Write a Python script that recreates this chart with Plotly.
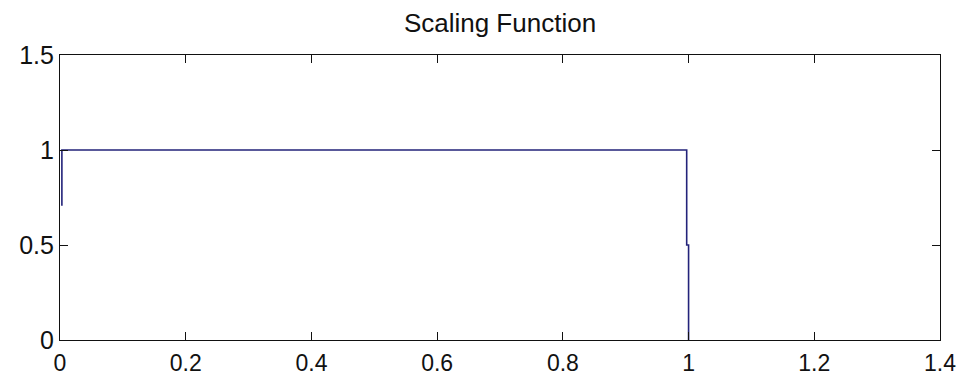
import plotly.graph_objects as go

# Haar scaling function (cascade approximation)
x_vals = [0.003, 0.003, 0.997, 0.997, 1.0, 1.0]
y_vals = [0.707, 1.0, 1.0, 0.5, 0.5, 0.0]

x_ticks = [0, 0.2, 0.4, 0.6, 0.8, 1, 1.2, 1.4]
x_tick_text = ["0", "0.2", "0.4", "0.6", "0.8", "1", "1.2", "1.4"]
y_ticks = [0, 0.5, 1, 1.5]
y_tick_text = ["0", "0.5", "1", "1.5"]

title_text = "Scaling Function"

font_family = "Liberation Sans, Arial, sans-serif"

fig = go.Figure()
fig.add_trace(go.Scatter(
    x=x_vals, y=y_vals, mode="lines",
    line=dict(color="#23237a", width=1.6),
    showlegend=False, hoverinfo="skip",
))

axis_common = dict(
    showline=True, linecolor="#111111", linewidth=1.2, mirror="ticks",
    ticks="inside", ticklen=8, tickwidth=1.2, tickcolor="#111111",
    showgrid=False, zeroline=False, automargin=False,
)

fig.update_layout(
    width=958, height=377,
    margin=dict(l=60, r=18, t=55, b=37),
    paper_bgcolor="white", plot_bgcolor="white",
    title=dict(text=title_text, x=0.5, xref="paper", xanchor="center",
               y=1 - 23 / 377, yref="container", yanchor="middle",
               font=dict(family=font_family, size=26, color="#111111")),
    xaxis=dict(range=[0, 1.4], tickvals=x_ticks, ticktext=x_tick_text,
               ticklabelstandoff=2,
               tickfont=dict(family=font_family, size=23, color="#111111"),
               **axis_common),
    yaxis=dict(range=[0, 1.5], tickvals=y_ticks, ticktext=y_tick_text,
               tickfont=dict(family=font_family, size=25, color="#111111"),
               **axis_common),
)

fig.write_html("out.html")
